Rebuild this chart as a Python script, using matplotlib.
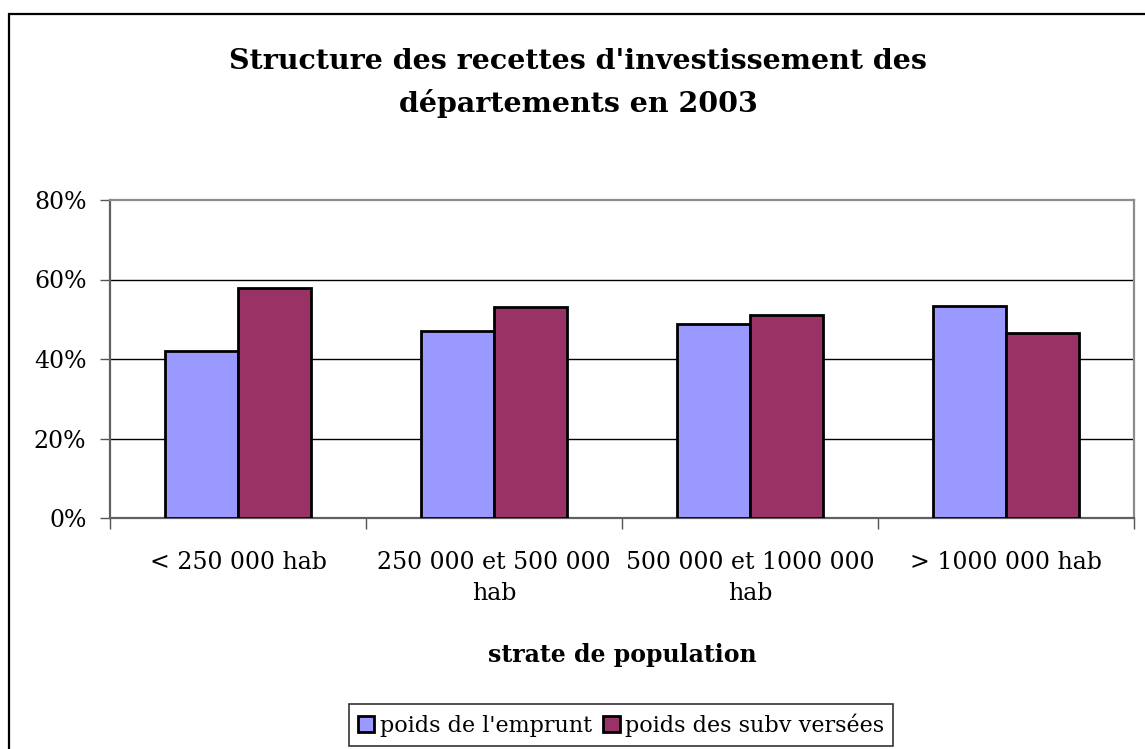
import matplotlib
matplotlib.use("Agg")
import matplotlib.pyplot as plt
from matplotlib.patches import Patch, Rectangle
from matplotlib.ticker import FuncFormatter

categories = ["< 250 000 hab", "250 000 et 500 000\nhab", "500 000 et 1000 000\nhab", "> 1000 000 hab"]
poids_emprunt = [0.421, 0.470, 0.489, 0.534]
poids_subv = [0.579, 0.530, 0.511, 0.466]
series_names = ["poids de l'emprunt", "poids des subv versées"]
colors = ["#9999FF", "#993366"]

plt.rcParams['font.family'] = ['DejaVu Serif']

W, H = 1145, 749
fig = plt.figure(figsize=(W / 100, H / 100), dpi=100)
ax = fig.add_axes([110 / W, 1 - 518 / H, (1134 - 110) / W, (518 - 200) / H])

x = list(range(len(categories)))
w = 1 / 3.5
ax.bar([i - w for i in x], poids_emprunt, width=w, align='edge', color=colors[0],
       edgecolor='black', linewidth=2, zorder=3)
ax.bar(x, poids_subv, width=w, align='edge', color=colors[1],
       edgecolor='black', linewidth=2, zorder=3)

ax.set_xlim(-0.5, len(categories) - 0.5)
ax.set_ylim(0, 0.8)
ax.set_yticks([0, 0.2, 0.4, 0.6, 0.8])
ax.yaxis.set_major_formatter(FuncFormatter(lambda v, p: f"{v*100:.0f}%"))
ax.tick_params(axis='y', length=7, width=1, color='#555555', pad=10, labelsize=17)

ax.set_xticks(x)
ax.set_xticklabels(categories, fontsize=17, linespacing=1.45)
ax.tick_params(axis='x', which='major', length=0, pad=24)
ax.set_xticks([i + 0.5 for i in range(-1, len(categories))], minor=True)
ax.tick_params(axis='x', which='minor', length=8, width=1, color='#555555')

for v in [0.2, 0.4, 0.6]:
    ax.axhline(v, color='black', linewidth=1, zorder=1)

for s in ['top', 'right']:
    ax.spines[s].set_color('#8c8c8c')
    ax.spines[s].set_linewidth(1.6)
for s in ['left', 'bottom']:
    ax.spines[s].set_color('#606060')
    ax.spines[s].set_linewidth(1.6)

fig.text(578 / W, 1 - 83 / H, "Structure des recettes d'investissement des\ndépartements en 2003",
         ha='center', va='center', fontsize=20.5, fontweight='bold', linespacing=1.6)
fig.text(622 / W, 1 - 655 / H, "strate de population", ha='center', va='center',
         fontsize=17, fontweight='bold')

handles = [Patch(facecolor=c, edgecolor='black', linewidth=2) for c in colors]
leg = fig.legend(handles, series_names, loc='center', bbox_to_anchor=(621 / W, 1 - 725 / H),
                 ncol=2, fontsize=16, frameon=True, fancybox=False, edgecolor='black',
                 handlelength=0.75, handleheight=0.75, handletextpad=0.25, columnspacing=0.5,
                 borderpad=0.4, borderaxespad=0)
leg.get_frame().set_linewidth(1.2)

fig.patches.append(Rectangle((9 / W, -0.1), 2, 1 - 14 / H + 0.1, transform=fig.transFigure,
                             fill=False, edgecolor='black', linewidth=1.6))

fig.savefig("out.png", dpi=100)
